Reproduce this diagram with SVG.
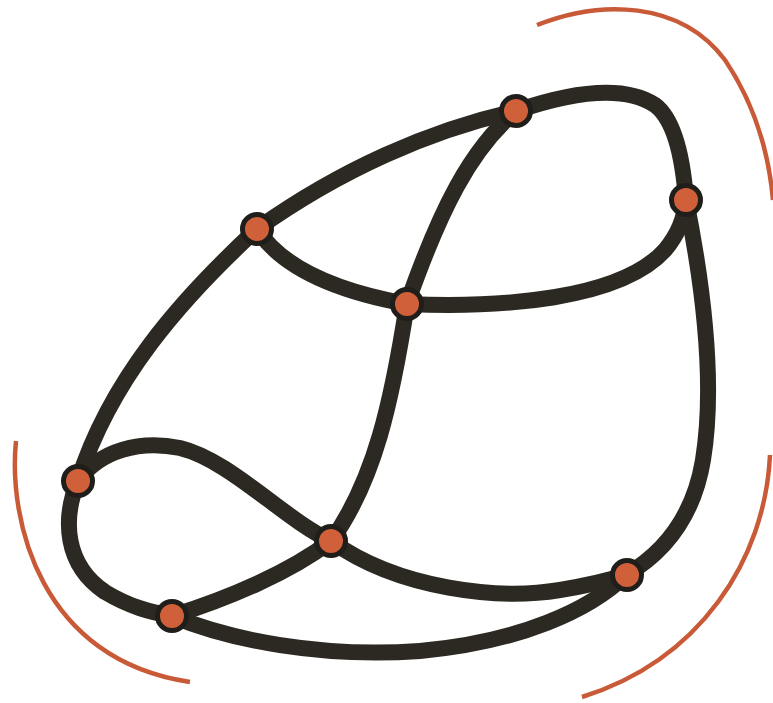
<svg xmlns="http://www.w3.org/2000/svg" width="773" height="703" viewBox="0 0 773 703">
<style>
.e{fill:none;stroke:#2b2921;stroke-width:16;stroke-linecap:round}
.arc{fill:none;stroke:#c95a38;stroke-width:4.5;stroke-linecap:butt}
.n{fill:#d0603a;stroke:#1f1e1a;stroke-width:5}
</style>
<rect width="773" height="703" fill="#ffffff"/>
<g id="decor">
<path class="arc" d="M537,25 C600,0 680,0 725,60 C752,100 768,145 773,200"/>
<path class="arc" d="M770,455 C765,560 700,660 582,697"/>
<path class="arc" d="M16,441 C8,520 40,660 190,682"/>
</g>
<g id="connectors">
<path class="e" d="M78,481 C110,380 180,300 257,229"/>
<path class="e" d="M257,229 C340,170 430,130 516,111"/>
<path class="e" d="M516,111 C560,96 620,82 655,105 C675,120 683,160 686,200"/>
<path class="e" d="M686,200 C702,280 716,380 703,460 C693,520 660,555 626,575"/>
<path class="e" d="M626,575 C590,610 520,642 420,651 C320,658 230,640 172,616"/>
<path class="e" d="M78,481 C62,520 65,565 105,592 C130,607 150,612 172,616"/>
<path class="e" d="M257,229 C280,265 330,290 407,304"/>
<path class="e" d="M407,304 C500,308 620,300 665,250 C680,232 685,215 686,200"/>
<path class="e" d="M516,111 C470,150 440,210 407,304"/>
<path class="e" d="M407,304 C392,400 375,480 331,541"/>
<path class="e" d="M78,481 C100,450 140,440 180,448 C230,460 285,520 331,541"/>
<path class="e" d="M331,541 C290,572 230,598 172,616"/>
<path class="e" d="M331,541 C400,590 500,600 560,590 C590,585 610,580 626,575"/>
</g>
<g id="nA"><circle class="n" cx="516" cy="111" r="14.5"/></g>
<g id="nB"><circle class="n" cx="686" cy="200" r="14.5"/></g>
<g id="nC"><circle class="n" cx="257" cy="229" r="14.5"/></g>
<g id="nD"><circle class="n" cx="407" cy="304" r="14.5"/></g>
<g id="nE"><circle class="n" cx="78" cy="481" r="14.5"/></g>
<g id="nF"><circle class="n" cx="331" cy="541" r="14.5"/></g>
<g id="nG"><circle class="n" cx="627" cy="575" r="14.5"/></g>
<g id="nH"><circle class="n" cx="172" cy="616" r="14.5"/></g>
</svg>
